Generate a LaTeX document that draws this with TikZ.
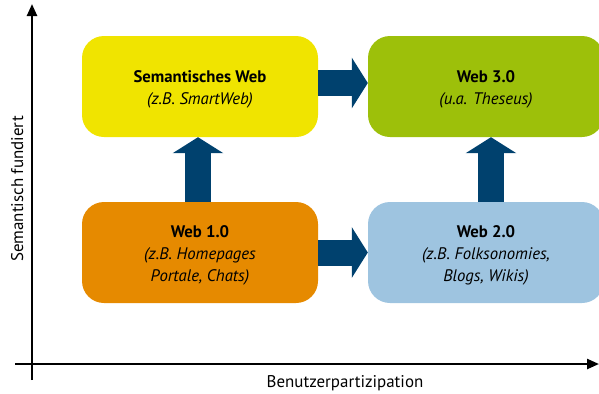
\documentclass[tikz,border=0pt]{standalone}
\usepackage{fontspec}
\setmainfont{PT Sans}
\usetikzlibrary{arrows.meta}
\definecolor{cyellow}{RGB}{240,228,0}
\definecolor{cgreen}{RGB}{157,192,10}
\definecolor{corange}{RGB}{230,138,0}
\definecolor{cblue}{RGB}{158,196,224}
\definecolor{cdark}{RGB}{0,65,110}
\newcommand{\lowstrut}{\rule{0pt}{18.5bp}}
\tikzset{
  box/.style={rectangle, rounded corners=22bp, minimum height=101bp, inner sep=0pt,
    align=center, font=\fontsize{16.8}{22}\selectfont},
  bigarrow/.style={draw=cdark, line width=26bp, -{Triangle[length=16bp,width=50bp]}, cdark},
  axis/.style={line width=2.4bp, -{Triangle[length=12bp,width=10bp]}},
  axlabel/.style={font=\fontsize{17}{20}\selectfont, inner sep=0pt}
}
\begin{document}
\begin{tikzpicture}[x=1bp,y=-1bp]
\useasboundingbox (0,0) rectangle (599,393);
\node[box, fill=cyellow, minimum width=236bp] (sem) at (200,86.5) {\lowstrut\textbf{Semantisches Web}\\\textit{(z.B. SmartWeb)}};
\node[box, fill=cgreen, minimum width=236bp] (w3) at (486,86.5) {\lowstrut\textbf{Web 3.0}\\\textit{(u.a. Theseus)}};
\node[box, fill=corange, minimum width=236bp] (w1) at (200,252.5) {\lowstrut\textbf{Web 1.0}\\\textit{(z.B. Homepages}\\\textit{Portale, Chats)}};
\node[box, fill=cblue, minimum width=236bp] (w2) at (486,252.5) {\lowstrut\textbf{Web 2.0}\\\textit{(z.B. Folksonomies,}\\\textit{Blogs, Wikis)}};
\draw[bigarrow] ([yshift=3.5bp]sem.east) -- ([yshift=3.5bp]w3.west);
\draw[bigarrow] (w1.east) -- (w2.west);
\draw[bigarrow] ([xshift=-2bp]w1.north) -- ([xshift=-2bp]sem.south);
\draw[bigarrow] ([xshift=5bp]w2.north) -- ([xshift=5bp]w3.south);
\coordinate (o1) at (32,380);
\coordinate (yend) at (32,4);
\coordinate (o2) at (15,364);
\coordinate (xend) at (599,364);
\draw[axis] (o1) -- (yend);
\draw[axis] (o2) -- (xend);
\node[axlabel, rotate=90, anchor=base] (ylab) at (23,189) {Semantisch fundiert};
\node[axlabel, anchor=base] (xlab) at (345,387) {Benutzerpartizipation};
\end{tikzpicture}
\end{document}
